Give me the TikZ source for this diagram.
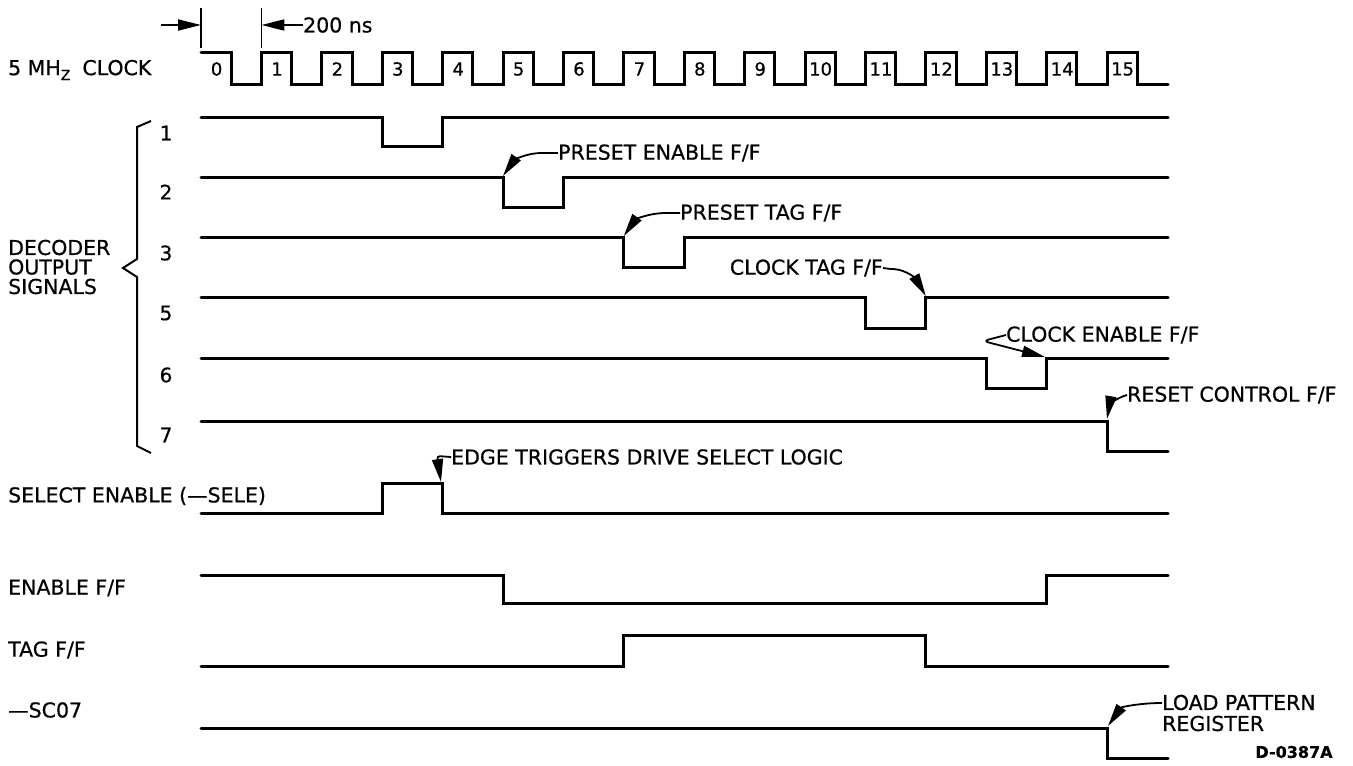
\documentclass[tikz,border=0pt]{standalone}
\usepackage{fontspec}
\setmainfont{DejaVu Sans}[FakeBold=0.6]
\usetikzlibrary{arrows.meta}
\begin{document}
\begin{tikzpicture}[x=1pt,y=-1pt,
  sig/.style={line width=3pt, line cap=round, line join=miter},
  thin/.style={line width=1.8pt},
  ann/.style={line width=1.8pt, -{Triangle[length=23pt,width=11pt]}},
  lbl/.style={font=\fontsize{20.5}{20}\selectfont, inner sep=0pt, anchor=west},
  num/.style={font=\fontsize{18}{18}\selectfont, inner sep=0pt},
  brc/.style={line width=2pt, line join=miter}
]
\useasboundingbox (0,0) rectangle (1353,766);
\fill[white] (0,0) rectangle (1353,766);

% ---------- dimension marks ----------
\coordinate (t0a) at (201,8);  \coordinate (t0b) at (201,48);
\coordinate (t1a) at (261.4,8); \coordinate (t1b) at (261.4,48);
\draw[thin] (t0a) -- (t0b);
\draw[thin] (t1a) -- (t1b);
\coordinate (dl) at (161,25);
\coordinate (dlt) at (201,25);
\coordinate (drt) at (261.4,25);
\node[lbl] (ns) at (303,25) {200 ns};
\draw[ann] (dl) -- (dlt);
\draw[ann] (ns.west) -- (drt);

% ---------- clock ----------
\node[lbl] (clk) at (8,70) {5 MH\raisebox{-5pt}{\fontsize{14}{14}\selectfont Z}\hspace{12pt}CLOCK};
\draw[sig] (201,52)
  \foreach \k in {0,...,14} {
    -- ({201+60.4*\k+30.2},52) -- ({201+60.4*\k+30.2},84)
    -- ({201+60.4*(\k+1)},84) -- ({201+60.4*(\k+1)},52)
  }
  -- (1137.2,52) -- (1137.2,84) -- (1168,84);
\foreach \k in {0,...,15} {
  \node[num] (p\k) at ({201+60.4*\k+15.6},69) {\k};
}

% ---------- decoder outputs ----------
\node[lbl, align=left, font=\fontsize{20.5}{19.5}\selectfont] (dec) at (8,267) {DECODER\\OUTPUT\\SIGNALS};
\draw[brc] (151,121) -- (137,127) -- (137,259) -- (123,268) -- (137,277) -- (137,446) -- (151,453);
\node[num, font=\fontsize{20}{20}\selectfont] (n1) at (166,133) {1};
\node[num, font=\fontsize{20}{20}\selectfont] (n2) at (166,192) {2};
\node[num, font=\fontsize{20}{20}\selectfont] (n3) at (166,253) {3};
\node[num, font=\fontsize{20}{20}\selectfont] (n5) at (166,313) {5};
\node[num, font=\fontsize{20}{20}\selectfont] (n6) at (166,375) {6};
\node[num, font=\fontsize{20}{20}\selectfont] (n7) at (166,435) {7};

\draw[sig] (201,117) -- (382,117) -- (382,146) -- (442.6,146) -- (442.6,117) -- (1168,117);
\draw[sig] (201,177) -- (503,177) -- (503,207) -- (563.4,207) -- (563.4,177) -- (1168,177);
\draw[sig] (201,237) -- (623.8,237) -- (623.8,267) -- (684.2,267) -- (684.2,237) -- (1168,237);
\draw[sig] (201,297) -- (865.4,297) -- (865.4,328) -- (925.8,328) -- (925.8,297) -- (1168,297);
\draw[sig] (201,358) -- (986.2,358) -- (986.2,388) -- (1046.6,388) -- (1046.6,358) -- (1168,358);
\draw[sig] (201,421) -- (1107,421) -- (1107,451) -- (1168,451);

% ---------- lower signals ----------
\node[lbl] (sel) at (8,496) {SELECT ENABLE (—SELE)};
\draw[sig] (201,513) -- (382,513) -- (382,483) -- (442.6,483) -- (442.6,513) -- (1168,513);
\node[lbl] (en) at (8,588) {ENABLE F/F};
\draw[sig] (201,575) -- (503,575) -- (503,603) -- (1046.6,603) -- (1046.6,575) -- (1168,575);
\node[lbl] (tag) at (8,650) {TAG F/F};
\draw[sig] (201,666) -- (623.8,666) -- (623.8,635) -- (925.8,635) -- (925.8,666) -- (1168,666);
\node[lbl] (sc) at (8,710) {—SC07};
\draw[sig] (201,728) -- (1107,728) -- (1107,758) -- (1168,758);

% ---------- annotations ----------
\coordinate (c2) at (503,176);
\node[lbl] (a2) at (558,153) {PRESET ENABLE F/F};
\draw[ann] (a2.west) -- ++(-16,0) to[out=180,in=55] (c2);

\coordinate (c3) at (623.8,236);
\node[lbl] (a3) at (680,213) {PRESET TAG F/F};
\draw[ann] (a3.west) -- ++(-14,0) to[out=180,in=55] (c3);

\coordinate (c5) at (925.8,296);
\node[lbl, anchor=east] (a5) at (883,268) {CLOCK TAG F/F};
\draw[ann] (a5.east) -- ++(8,1) to[out=0,in=120] (c5);

\coordinate (c6) at (1045,357);
\node[lbl] (a6) at (1006,335) {CLOCK ENABLE F/F};
\draw[ann, rounded corners=6pt] (a6.west) -- (983,341) -- (c6);

\coordinate (c7) at (1107,419);
\node[lbl] (a7) at (1127,395) {RESET CONTROL F/F};
\draw[ann] (a7.west) to[out=195,in=80] (c7);

\coordinate (cs) at (441,482);
\node[lbl] (as) at (451,457) {EDGE TRIGGERS DRIVE SELECT LOGIC};
\draw[ann, rounded corners=3pt] (as.west) -- (437,456) -- (cs);

\coordinate (cl) at (1108,726);
\node[lbl, align=left, font=\fontsize{20.5}{21}\selectfont] (al) at (1162,713) {LOAD PATTERN\\REGISTER};
\draw[ann] ([yshift=10pt]al.west) to[out=180,in=55] (cl);

\node[inner sep=0pt, font=\bfseries\fontsize{16}{16}\selectfont] (id) at (1294,752) {D-0387A};
\end{tikzpicture}
\end{document}
